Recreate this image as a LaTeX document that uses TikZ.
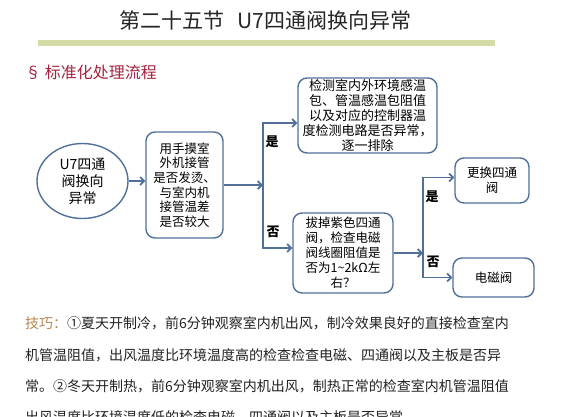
\documentclass[tikz,border=0pt]{standalone}
\usepackage{fontspec}
\setmainfont{Noto Sans CJK SC}
\usetikzlibrary{positioning,arrows.meta,shapes.geometric}
\XeTeXlinebreaklocale "zh"
\XeTeXlinebreakskip=0pt plus 2pt
\definecolor{flowblue}{HTML}{50709A}
\definecolor{bargreen}{HTML}{D5DBA6}
\definecolor{headred}{HTML}{A3243F}
\definecolor{tipbrown}{HTML}{B98550}
\definecolor{bodygray}{HTML}{222222}

\begin{document}
\begin{tikzpicture}[x=1pt,y=-1pt,
  box/.style={draw=flowblue, line width=1.4pt, rounded corners=9pt, align=center, inner sep=0pt, font=\fontsize{12.5}{14.6}\selectfont},
  link/.style={draw=flowblue, line width=1.8pt, -{Straight Barb[length=4pt,width=8pt]}},
  yesno/.style={inner sep=0pt, font=\fontsize{13}{15}\selectfont\bfseries},
  tipline/.style={anchor=west, inner sep=0pt, text=bodygray, font=\fontsize{14}{16}\selectfont}]
\clip (0,0) rectangle (584,416);
\node[text=black!85, font=\fontsize{21}{24}\selectfont] (title) at (265.5,20) {第二十五节\hspace{0.6em}U7四通阀换向异常};
\fill[bargreen] (38,40) rectangle (495,46);
\node[anchor=west, inner sep=0pt, text=headred, font=\fontsize{16}{18}\selectfont] (heading) at (25,72) {§ 标准化处理流程};
\node[ellipse, draw=flowblue, line width=1.4pt, minimum width=91pt, minimum height=75pt, inner sep=0pt, align=center, font=\fontsize{14}{17}\selectfont] (start) at (82.5,181) {U7四通\\阀换向\\异常};
\node[box, minimum width=77pt, minimum height=106pt] (check) at (184.5,185) {用手摸室\\外机接管\\是否发烫、\\与室内机\\接管温差\\是否较大};
\node[box, minimum width=139pt, minimum height=75pt, font=\fontsize{13}{15.2}\selectfont] (sensor) at (367.5,115.5) {检测室内外环境感温\\包、管温感温包阻值\\以及对应的控制器温\\度检测电路是否异常，\\逐一排除};
\node[box, minimum width=100pt, minimum height=80pt, font=\fontsize{12.5}{15}\selectfont] (coil) at (343,253) {拔掉紫色四通\\阀，检查电磁\\阀线圈阻值是\\否为1\textasciitilde2kΩ左\\右？};
\node[box, minimum width=74pt, minimum height=45pt] (swap) at (492,180.5) {更换四通\\阀};
\node[box, minimum width=81pt, minimum height=39pt] (valve) at (493.5,277.5) {电磁阀};
\coordinate (fork1) at (263,185);
\coordinate (fork2) at (423,253);
\draw[link] (start.east) -- (start.east -| check.west);
\draw[link] (check.east) -- (fork1);
\draw[link] (fork1) |- ([yshift=-7.5pt]sensor.west);
\draw[link] (fork1) |- ([yshift=5pt]coil.west);
\draw[link] (coil.east) -- (fork2);
\draw[link] (fork2) |- ([yshift=3pt]swap.west);
\draw[link] (fork2) |- (valve.west);
\node[yesno] (yes1) at (272,142) {是};
\node[yesno] (no1) at (273,232) {否};
\node[yesno] (yes2) at (432,197) {是};
\node[yesno] (no2) at (433,262) {否};
\node[tipline] (tip1) at (25,323) {\makebox[493pt][s]{\textcolor{tipbrown}{技巧：}①夏天开制冷，前6分钟观察室内机出风，制冷效果良好的直接检查室内}};
\node[tipline] (tip2) at (25,355) {\makebox[493pt][s]{机管温阻值，出风温度比环境温度高的检查检查电磁、四通阀以及主板是否异}};
\node[tipline] (tip3) at (25,386) {\makebox[493pt][s]{常。②冬天开制热，前6分钟观察室内机出风，制热正常的检查室内机管温阻值}};
\node[tipline] (tip4) at (25,417) {出风温度比环境温度低的检查电磁、四通阀以及主板是否异常。};
\end{tikzpicture}
\end{document}
